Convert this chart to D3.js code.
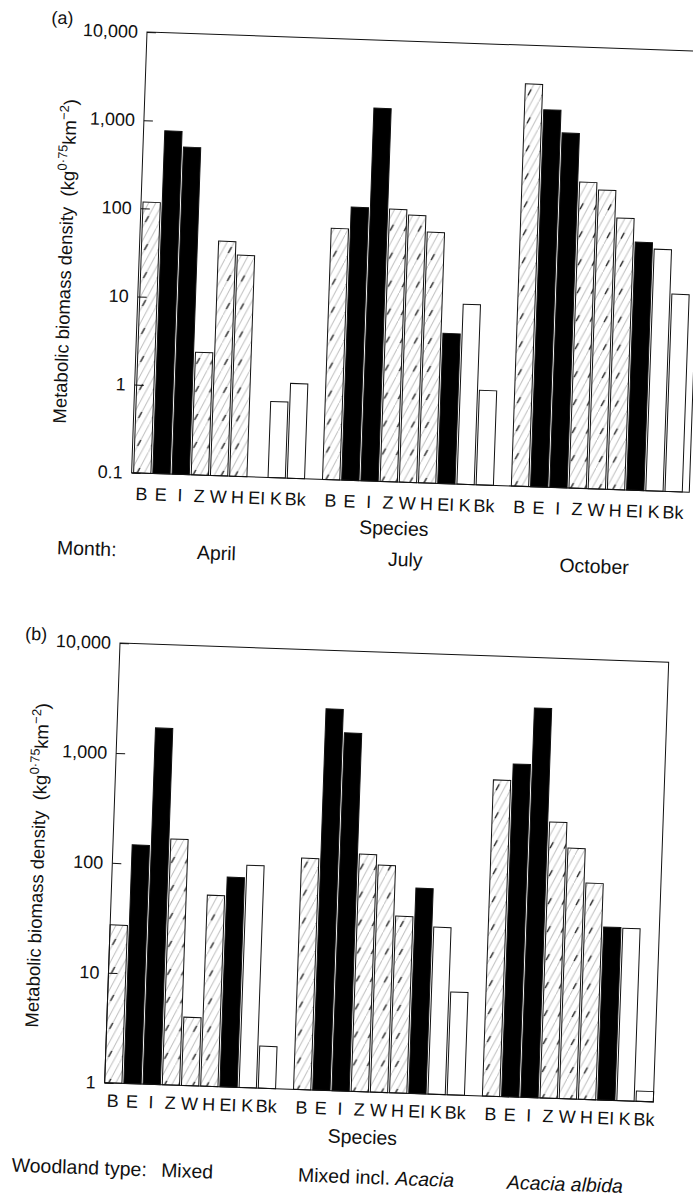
<!DOCTYPE html>
<html>
<head>
<meta charset="utf-8">
<script src="https://cdnjs.cloudflare.com/ajax/libs/d3/7.8.5/d3.min.js"></script>
<style>
body{margin:0;background:#fff;}
text{font-family:"Liberation Sans",Arial,Helvetica,sans-serif;fill:#111;}
</style>
</head>
<body>
<div class="chart"></div>
<script>
// species along the x axis, same order in every group
var species = ["B", "E", "I", "Z", "W", "H", "EI", "K", "Bk"];

// (a) by month
var months = ["April", "July", "October"];
var april   = [118, 771, 514, 2.46, 45.6, 32.2, null, 0.73, 1.19];
var july    = [70.6, 125, 1690, 123, 107, 69.8, 5.05, 11.0, 1.18];
var october = [3650, 1890, 1050, 296, 245, 120, 65, 55, 17.3];
var ticksA = [0.1, 1, 10, 100, 1000, 10000];
var tickLabelsA = ["0.1", "1", "10", "100", "1,000", "10,000"];

// (b) by woodland type
var woodland = ["Mixed", "Mixed incl. Acacia", "Acacia albida"];
var mixed        = [27.3, 148, 1738, 172, 4.18, 54.6, 80.8, 105, 2.41];
var mixedAcacia  = [127, 2930, 1800, 144, 116, 40.4, 73.6, 33, 8.6];
var acaciaAlbida = [750, 1062, 3480, 324, 190, 92.7, 37.5, 37, 1.24];
var ticksB = [1, 10, 100, 1000, 10000];
var tickLabelsB = ["1", "10", "100", "1,000", "10,000"];

var w = 693, h = 1196;
var tilt = 2; // the scanned page sits a little crooked

var fills = {
	B: "url(#hatch)", E: "#000", I: "#000",
	Z: "url(#hatch)", W: "url(#hatch)", H: "url(#hatch)",
	EI: "#000", K: "#fff", Bk: "#fff"
};

var svg = d3.select(".chart").append("svg")
	.attr("width", w)
	.attr("height", h);

//hatching used for the striped bars
var pat = svg.append("defs").append("pattern")
	.attr("id", "hatch")
	.attr("patternUnits", "userSpaceOnUse")
	.attr("width", 14)
	.attr("height", 28);
pat.append("rect").attr("width", 14).attr("height", 28).attr("fill", "#fff");
[[0, 28, 14, 0], [-7, 28, 7, 0], [7, 28, 21, 0]].forEach(function(l){
	pat.append("line")
		.attr("x1", l[0]).attr("y1", l[1]).attr("x2", l[2]).attr("y2", l[3])
		.attr("stroke", "#999")
		.attr("stroke-width", 0.7);
});
pat.append("line")
	.attr("x1", 3).attr("y1", 22).attr("x2", 6).attr("y2", 16)
	.attr("stroke", "#111")
	.attr("stroke-width", 1.3);

function drawPanel(p){
	var g = svg.append("g")
		.attr("transform", "translate(" + p.x + "," + p.y + ") rotate(" + tilt + ")");

	var y = d3.scaleLog().domain(p.domain).range([p.height, 0]);
	var x0 = d3.scaleBand().domain(p.groups).range(p.groupRange).paddingInner(0.095);
	var x1 = d3.scaleBand().domain(species).range([0, x0.bandwidth()]).paddingInner(0.1);

	p.groups.forEach(function(grp, gi){
		var rows = species.map(function(s, i){
			return {sp: s, v: p.values[gi][i]};
		}).filter(function(d){ return d.v != null; });

		var gg = g.append("g").attr("transform", "translate(" + x0(grp) + ",0)");

		gg.selectAll("rect")
			.data(rows)
			.enter()
			.append("rect")
			.attr("x", function(d){ return x1(d.sp); })
			.attr("y", function(d){ return y(d.v); })
			.attr("width", x1.bandwidth())
			.attr("height", function(d){ return p.height - y(d.v); })
			.attr("fill", function(d){ return fills[d.sp]; })
			.attr("stroke", "#111")
			.attr("stroke-width", 1);

		gg.selectAll("text")
			.data(species)
			.enter()
			.append("text")
			.text(function(d){ return d; })
			.attr("x", function(d){ return x1(d) + x1.bandwidth() / 2; })
			.attr("y", p.height + p.speciesGap)
			.attr("text-anchor", "middle")
			.style("font-size", "18px");

		//group name under the species letters
		var gl = g.append("text")
			.attr("x", x0(grp) + x0.bandwidth() / 2)
			.attr("y", p.rowY)
			.attr("text-anchor", "middle")
			.style("font-size", "19.5px");
		if(grp == "Mixed incl. Acacia"){
			gl.append("tspan").text("Mixed incl. ");
			gl.append("tspan").text("Acacia").style("font-style", "italic");
		}
		else if(grp == "Acacia albida"){
			gl.text(grp).style("font-style", "italic");
		}
		else{
			gl.text(grp);
		}
	});

	//frame
	g.append("rect")
		.attr("width", p.width)
		.attr("height", p.height)
		.attr("fill", "none")
		.attr("stroke", "#111")
		.attr("stroke-width", 1);

	//y axis, ticks point inwards
	var ax = g.append("g")
		.call(d3.axisLeft(y)
			.tickValues(p.ticks)
			.tickFormat(function(d, i){ return p.tickLabels[i]; })
			.tickSizeInner(-9)
			.tickSizeOuter(0)
			.tickPadding(9));
	ax.select(".domain").remove();
	ax.attr("font-family", null).attr("font-size", null);
	ax.selectAll("text").style("font-size", "18px").attr("fill", "#111");
	ax.selectAll("line").attr("stroke", "#111");

	//y title
	var yt = g.append("text")
		.attr("transform", "translate(" + p.titleX + "," + p.titleY + ") rotate(-90)")
		.attr("text-anchor", "middle")
		.attr("dy", "0.35em")
		.style("font-size", "18.5px");
	yt.append("tspan").text("Metabolic biomass density\u00a0\u00a0(kg");
	yt.append("tspan").text("0\u00b775").attr("dy", -8).style("font-size", "13px");
	yt.append("tspan").text("km").attr("dy", 8);
	yt.append("tspan").text("\u22122").attr("dy", -8).style("font-size", "13px");
	yt.append("tspan").text(")").attr("dy", 8);

	g.append("text")
		.text("Species")
		.attr("x", p.width / 2 - 15)
		.attr("y", p.height + p.speciesTitleGap)
		.attr("text-anchor", "middle")
		.style("font-size", "19.5px");

	g.append("text")
		.text(p.rowTitle)
		.attr("x", p.rowTitleX)
		.attr("y", p.rowY)
		.style("font-size", "19.5px");

	g.append("text")
		.text(p.tag)
		.attr("x", p.tagX)
		.attr("y", p.tagY)
		.attr("text-anchor", "middle")
		.style("font-size", "18px");
}

drawPanel({
	x: 147, y: 32, width: 558, height: 441,
	domain: [0.1, 10000], ticks: ticksA, tickLabels: tickLabelsA,
	groups: months, values: [april, july, october],
	groupRange: [2, 551],
	speciesGap: 27, speciesTitleGap: 53, rowY: 525,
	rowTitle: "Month:", rowTitleX: -72,
	titleX: -74, titleY: 232,
	tag: "(a)", tagX: -85, tagY: -5
});

drawPanel({
	x: 120, y: 643, width: 549, height: 440,
	domain: [1, 10000], ticks: ticksB, tickLabels: tickLabelsB,
	groups: woodland, values: [mixed, mixedAcacia, acaciaAlbida],
	groupRange: [0, 549],
	speciesGap: 24, speciesTitleGap: 52, rowY: 532,
	rowTitle: "Woodland type:", rowTitleX: -90,
	titleX: -75, titleY: 225,
	tag: "(b)", tagX: -84, tagY: 0
});
</script>
</body>
</html>
